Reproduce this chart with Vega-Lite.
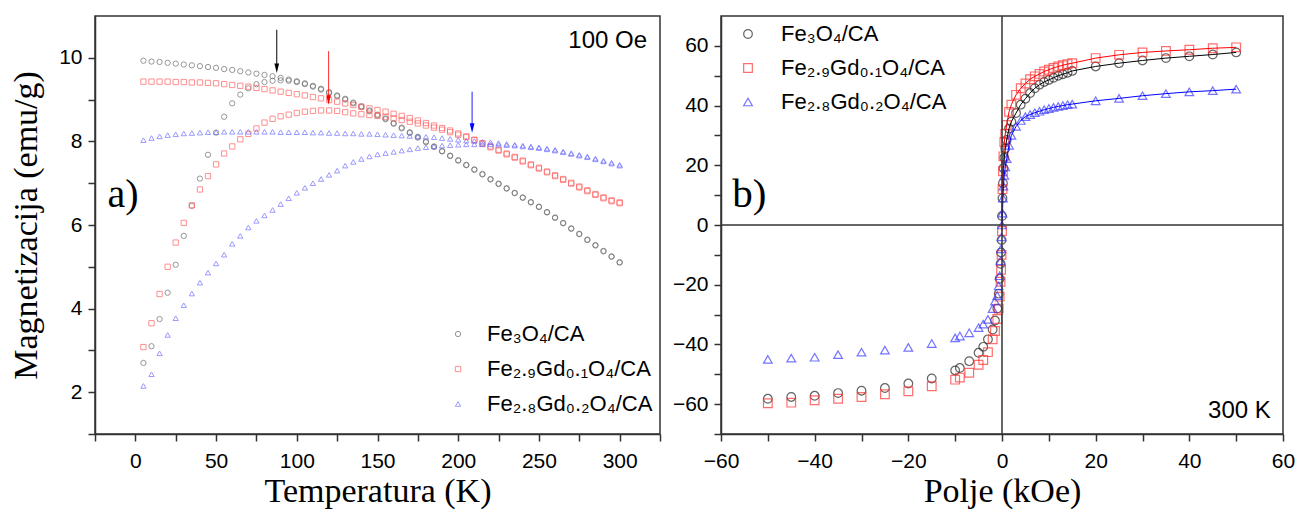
{
"$schema": "https://vega.github.io/schema/vega-lite/v6.json",
"background": "white",
"padding": {"left": 8, "top": 14, "right": 3, "bottom": 3},
"spacing": 9,
"config": {
  "view": {"stroke": "#333", "strokeWidth": 1.5},
  "axis": {"grid": false, "domainColor": "#333", "domainWidth": 1.5, "tickColor": "#333", "tickWidth": 1.5, "tickSize": 7, "labelFont": "Liberation Sans", "labelFontSize": 21, "labelColor": "#000", "labelPadding": 6, "titleFont": "Liberation Serif", "titleFontSize": 34, "titleFontWeight": "normal", "titleColor": "#000", "labelFlush": false, "labelOverlap": false}
},
"datasets": {
"zfc": [
{"s":"A","c":"F","T":5,"M":9.93},{"s":"A","c":"F","T":10,"M":9.91},{"s":"A","c":"F","T":15,"M":9.90},{"s":"A","c":"F","T":20,"M":9.88},{"s":"A","c":"F","T":25,"M":9.86},{"s":"A","c":"F","T":30,"M":9.84},{"s":"A","c":"F","T":35,"M":9.82},{"s":"A","c":"F","T":40,"M":9.80},{"s":"A","c":"F","T":45,"M":9.78},{"s":"A","c":"F","T":50,"M":9.76},{"s":"A","c":"F","T":55,"M":9.73},{"s":"A","c":"F","T":60,"M":9.71},{"s":"A","c":"F","T":65,"M":9.68},{"s":"A","c":"F","T":70,"M":9.65},{"s":"A","c":"F","T":75,"M":9.62},{"s":"A","c":"F","T":80,"M":9.59},{"s":"A","c":"F","T":85,"M":9.56},{"s":"A","c":"F","T":90,"M":9.52},{"s":"A","c":"F","T":95,"M":9.48},{"s":"A","c":"F","T":100,"M":9.44},{"s":"A","c":"F","T":105,"M":9.39},{"s":"A","c":"F","T":110,"M":9.33},{"s":"A","c":"F","T":115,"M":9.26},{"s":"A","c":"F","T":120,"M":9.18},{"s":"A","c":"F","T":125,"M":9.10},{"s":"A","c":"F","T":130,"M":9.02},{"s":"A","c":"F","T":135,"M":8.93},{"s":"A","c":"F","T":140,"M":8.84},{"s":"A","c":"F","T":145,"M":8.74},{"s":"A","c":"F","T":150,"M":8.64},{"s":"A","c":"F","T":155,"M":8.55},{"s":"A","c":"F","T":160,"M":8.44},{"s":"A","c":"F","T":165,"M":8.33},{"s":"A","c":"F","T":170,"M":8.22},{"s":"A","c":"F","T":175,"M":8.11},{"s":"A","c":"F","T":180,"M":8.00},{"s":"A","c":"F","T":185,"M":7.88},{"s":"A","c":"F","T":190,"M":7.77},{"s":"A","c":"F","T":195,"M":7.66},{"s":"A","c":"F","T":200,"M":7.55},{"s":"A","c":"F","T":205,"M":7.44},{"s":"A","c":"F","T":210,"M":7.33},{"s":"A","c":"F","T":215,"M":7.22},{"s":"A","c":"F","T":220,"M":7.10},{"s":"A","c":"F","T":225,"M":6.99},{"s":"A","c":"F","T":230,"M":6.88},{"s":"A","c":"F","T":235,"M":6.77},{"s":"A","c":"F","T":240,"M":6.66},{"s":"A","c":"F","T":245,"M":6.55},{"s":"A","c":"F","T":250,"M":6.44},{"s":"A","c":"F","T":255,"M":6.31},{"s":"A","c":"F","T":260,"M":6.18},{"s":"A","c":"F","T":265,"M":6.05},{"s":"A","c":"F","T":270,"M":5.92},{"s":"A","c":"F","T":275,"M":5.79},{"s":"A","c":"F","T":280,"M":5.65},{"s":"A","c":"F","T":285,"M":5.52},{"s":"A","c":"F","T":290,"M":5.38},{"s":"A","c":"F","T":295,"M":5.25},{"s":"A","c":"F","T":300,"M":5.11},
{"s":"A","c":"Z","T":5,"M":2.70},{"s":"A","c":"Z","T":10,"M":3.10},{"s":"A","c":"Z","T":15,"M":3.75},{"s":"A","c":"Z","T":20,"M":4.38},{"s":"A","c":"Z","T":25,"M":5.05},{"s":"A","c":"Z","T":30,"M":5.74},{"s":"A","c":"Z","T":35,"M":6.46},{"s":"A","c":"Z","T":40,"M":7.11},{"s":"A","c":"Z","T":45,"M":7.68},{"s":"A","c":"Z","T":50,"M":8.21},{"s":"A","c":"Z","T":55,"M":8.59},{"s":"A","c":"Z","T":60,"M":8.91},{"s":"A","c":"Z","T":65,"M":9.12},{"s":"A","c":"Z","T":70,"M":9.27},{"s":"A","c":"Z","T":75,"M":9.37},{"s":"A","c":"Z","T":80,"M":9.42},{"s":"A","c":"Z","T":85,"M":9.45},{"s":"A","c":"Z","T":90,"M":9.46},{"s":"A","c":"Z","T":95,"M":9.45},{"s":"A","c":"Z","T":100,"M":9.42},{"s":"A","c":"Z","T":105,"M":9.37},{"s":"A","c":"Z","T":110,"M":9.31},{"s":"A","c":"Z","T":115,"M":9.24},{"s":"A","c":"Z","T":120,"M":9.16},{"s":"A","c":"Z","T":125,"M":9.08},{"s":"A","c":"Z","T":130,"M":9.00},{"s":"A","c":"Z","T":135,"M":8.91},{"s":"A","c":"Z","T":140,"M":8.82},{"s":"A","c":"Z","T":145,"M":8.72},{"s":"A","c":"Z","T":150,"M":8.62},{"s":"A","c":"Z","T":155,"M":8.53},{"s":"A","c":"Z","T":160,"M":8.42},{"s":"A","c":"Z","T":165,"M":8.31},{"s":"A","c":"Z","T":170,"M":8.20},{"s":"A","c":"Z","T":175,"M":8.09},{"s":"A","c":"Z","T":180,"M":7.98},{"s":"A","c":"Z","T":185,"M":7.87},{"s":"A","c":"Z","T":190,"M":7.76},{"s":"A","c":"Z","T":195,"M":7.65},{"s":"A","c":"Z","T":200,"M":7.54},{"s":"A","c":"Z","T":205,"M":7.43},{"s":"A","c":"Z","T":210,"M":7.32},{"s":"A","c":"Z","T":215,"M":7.21},{"s":"A","c":"Z","T":220,"M":7.09},{"s":"A","c":"Z","T":225,"M":6.98},{"s":"A","c":"Z","T":230,"M":6.87},{"s":"A","c":"Z","T":235,"M":6.76},{"s":"A","c":"Z","T":240,"M":6.65},{"s":"A","c":"Z","T":245,"M":6.54},{"s":"A","c":"Z","T":250,"M":6.43},{"s":"A","c":"Z","T":255,"M":6.30},{"s":"A","c":"Z","T":260,"M":6.17},{"s":"A","c":"Z","T":265,"M":6.04},{"s":"A","c":"Z","T":270,"M":5.91},{"s":"A","c":"Z","T":275,"M":5.78},{"s":"A","c":"Z","T":280,"M":5.64},{"s":"A","c":"Z","T":285,"M":5.51},{"s":"A","c":"Z","T":290,"M":5.37},{"s":"A","c":"Z","T":295,"M":5.24},{"s":"A","c":"Z","T":300,"M":5.10},
{"s":"B","c":"F","T":5,"M":9.43},{"s":"B","c":"F","T":10,"M":9.43},{"s":"B","c":"F","T":15,"M":9.43},{"s":"B","c":"F","T":20,"M":9.43},{"s":"B","c":"F","T":25,"M":9.42},{"s":"B","c":"F","T":30,"M":9.42},{"s":"B","c":"F","T":35,"M":9.41},{"s":"B","c":"F","T":40,"M":9.41},{"s":"B","c":"F","T":45,"M":9.40},{"s":"B","c":"F","T":50,"M":9.39},{"s":"B","c":"F","T":55,"M":9.37},{"s":"B","c":"F","T":60,"M":9.35},{"s":"B","c":"F","T":65,"M":9.33},{"s":"B","c":"F","T":70,"M":9.31},{"s":"B","c":"F","T":75,"M":9.28},{"s":"B","c":"F","T":80,"M":9.25},{"s":"B","c":"F","T":85,"M":9.22},{"s":"B","c":"F","T":90,"M":9.19},{"s":"B","c":"F","T":95,"M":9.16},{"s":"B","c":"F","T":100,"M":9.13},{"s":"B","c":"F","T":105,"M":9.10},{"s":"B","c":"F","T":110,"M":9.06},{"s":"B","c":"F","T":115,"M":9.03},{"s":"B","c":"F","T":120,"M":8.99},{"s":"B","c":"F","T":125,"M":8.95},{"s":"B","c":"F","T":130,"M":8.91},{"s":"B","c":"F","T":135,"M":8.87},{"s":"B","c":"F","T":140,"M":8.83},{"s":"B","c":"F","T":145,"M":8.79},{"s":"B","c":"F","T":150,"M":8.75},{"s":"B","c":"F","T":155,"M":8.71},{"s":"B","c":"F","T":160,"M":8.66},{"s":"B","c":"F","T":165,"M":8.61},{"s":"B","c":"F","T":170,"M":8.56},{"s":"B","c":"F","T":175,"M":8.50},{"s":"B","c":"F","T":180,"M":8.44},{"s":"B","c":"F","T":185,"M":8.38},{"s":"B","c":"F","T":190,"M":8.32},{"s":"B","c":"F","T":195,"M":8.26},{"s":"B","c":"F","T":200,"M":8.19},{"s":"B","c":"F","T":205,"M":8.12},{"s":"B","c":"F","T":210,"M":8.04},{"s":"B","c":"F","T":215,"M":7.96},{"s":"B","c":"F","T":220,"M":7.88},{"s":"B","c":"F","T":225,"M":7.80},{"s":"B","c":"F","T":230,"M":7.71},{"s":"B","c":"F","T":235,"M":7.63},{"s":"B","c":"F","T":240,"M":7.54},{"s":"B","c":"F","T":245,"M":7.45},{"s":"B","c":"F","T":250,"M":7.37},{"s":"B","c":"F","T":255,"M":7.28},{"s":"B","c":"F","T":260,"M":7.19},{"s":"B","c":"F","T":265,"M":7.10},{"s":"B","c":"F","T":270,"M":7.01},{"s":"B","c":"F","T":275,"M":6.92},{"s":"B","c":"F","T":280,"M":6.83},{"s":"B","c":"F","T":285,"M":6.74},{"s":"B","c":"F","T":290,"M":6.66},{"s":"B","c":"F","T":295,"M":6.59},{"s":"B","c":"F","T":300,"M":6.54},
{"s":"B","c":"Z","T":5,"M":3.08},{"s":"B","c":"Z","T":10,"M":3.65},{"s":"B","c":"Z","T":15,"M":4.35},{"s":"B","c":"Z","T":20,"M":5.00},{"s":"B","c":"Z","T":25,"M":5.58},{"s":"B","c":"Z","T":30,"M":6.05},{"s":"B","c":"Z","T":35,"M":6.47},{"s":"B","c":"Z","T":40,"M":6.85},{"s":"B","c":"Z","T":45,"M":7.17},{"s":"B","c":"Z","T":50,"M":7.45},{"s":"B","c":"Z","T":55,"M":7.71},{"s":"B","c":"Z","T":60,"M":7.88},{"s":"B","c":"Z","T":65,"M":8.05},{"s":"B","c":"Z","T":70,"M":8.18},{"s":"B","c":"Z","T":75,"M":8.31},{"s":"B","c":"Z","T":80,"M":8.45},{"s":"B","c":"Z","T":85,"M":8.54},{"s":"B","c":"Z","T":90,"M":8.60},{"s":"B","c":"Z","T":95,"M":8.64},{"s":"B","c":"Z","T":100,"M":8.68},{"s":"B","c":"Z","T":105,"M":8.71},{"s":"B","c":"Z","T":110,"M":8.73},{"s":"B","c":"Z","T":115,"M":8.74},{"s":"B","c":"Z","T":120,"M":8.74},{"s":"B","c":"Z","T":125,"M":8.73},{"s":"B","c":"Z","T":130,"M":8.70},{"s":"B","c":"Z","T":135,"M":8.67},{"s":"B","c":"Z","T":140,"M":8.65},{"s":"B","c":"Z","T":145,"M":8.63},{"s":"B","c":"Z","T":150,"M":8.61},{"s":"B","c":"Z","T":155,"M":8.59},{"s":"B","c":"Z","T":160,"M":8.55},{"s":"B","c":"Z","T":165,"M":8.51},{"s":"B","c":"Z","T":170,"M":8.47},{"s":"B","c":"Z","T":175,"M":8.43},{"s":"B","c":"Z","T":180,"M":8.38},{"s":"B","c":"Z","T":185,"M":8.33},{"s":"B","c":"Z","T":190,"M":8.28},{"s":"B","c":"Z","T":195,"M":8.22},{"s":"B","c":"Z","T":200,"M":8.16},{"s":"B","c":"Z","T":205,"M":8.10},{"s":"B","c":"Z","T":210,"M":8.03},{"s":"B","c":"Z","T":215,"M":7.94},{"s":"B","c":"Z","T":220,"M":7.86},{"s":"B","c":"Z","T":225,"M":7.78},{"s":"B","c":"Z","T":230,"M":7.69},{"s":"B","c":"Z","T":235,"M":7.61},{"s":"B","c":"Z","T":240,"M":7.52},{"s":"B","c":"Z","T":245,"M":7.43},{"s":"B","c":"Z","T":250,"M":7.35},{"s":"B","c":"Z","T":255,"M":7.26},{"s":"B","c":"Z","T":260,"M":7.17},{"s":"B","c":"Z","T":265,"M":7.08},{"s":"B","c":"Z","T":270,"M":6.99},{"s":"B","c":"Z","T":275,"M":6.90},{"s":"B","c":"Z","T":280,"M":6.81},{"s":"B","c":"Z","T":285,"M":6.72},{"s":"B","c":"Z","T":290,"M":6.64},{"s":"B","c":"Z","T":295,"M":6.57},{"s":"B","c":"Z","T":300,"M":6.52},
{"s":"C","c":"F","T":5,"M":8.03},{"s":"C","c":"F","T":10,"M":8.08},{"s":"C","c":"F","T":15,"M":8.12},{"s":"C","c":"F","T":20,"M":8.15},{"s":"C","c":"F","T":25,"M":8.17},{"s":"C","c":"F","T":30,"M":8.19},{"s":"C","c":"F","T":35,"M":8.20},{"s":"C","c":"F","T":40,"M":8.21},{"s":"C","c":"F","T":45,"M":8.22},{"s":"C","c":"F","T":50,"M":8.22},{"s":"C","c":"F","T":55,"M":8.23},{"s":"C","c":"F","T":60,"M":8.23},{"s":"C","c":"F","T":65,"M":8.23},{"s":"C","c":"F","T":70,"M":8.23},{"s":"C","c":"F","T":75,"M":8.23},{"s":"C","c":"F","T":80,"M":8.23},{"s":"C","c":"F","T":85,"M":8.23},{"s":"C","c":"F","T":90,"M":8.22},{"s":"C","c":"F","T":95,"M":8.22},{"s":"C","c":"F","T":100,"M":8.22},{"s":"C","c":"F","T":105,"M":8.22},{"s":"C","c":"F","T":110,"M":8.21},{"s":"C","c":"F","T":115,"M":8.21},{"s":"C","c":"F","T":120,"M":8.20},{"s":"C","c":"F","T":125,"M":8.20},{"s":"C","c":"F","T":130,"M":8.19},{"s":"C","c":"F","T":135,"M":8.19},{"s":"C","c":"F","T":140,"M":8.18},{"s":"C","c":"F","T":145,"M":8.18},{"s":"C","c":"F","T":150,"M":8.17},{"s":"C","c":"F","T":155,"M":8.16},{"s":"C","c":"F","T":160,"M":8.15},{"s":"C","c":"F","T":165,"M":8.14},{"s":"C","c":"F","T":170,"M":8.13},{"s":"C","c":"F","T":175,"M":8.12},{"s":"C","c":"F","T":180,"M":8.11},{"s":"C","c":"F","T":185,"M":8.10},{"s":"C","c":"F","T":190,"M":8.08},{"s":"C","c":"F","T":195,"M":8.06},{"s":"C","c":"F","T":200,"M":8.04},{"s":"C","c":"F","T":205,"M":8.02},{"s":"C","c":"F","T":210,"M":8.01},{"s":"C","c":"F","T":215,"M":7.99},{"s":"C","c":"F","T":220,"M":7.98},{"s":"C","c":"F","T":225,"M":7.96},{"s":"C","c":"F","T":230,"M":7.94},{"s":"C","c":"F","T":235,"M":7.92},{"s":"C","c":"F","T":240,"M":7.90},{"s":"C","c":"F","T":245,"M":7.88},{"s":"C","c":"F","T":250,"M":7.86},{"s":"C","c":"F","T":255,"M":7.83},{"s":"C","c":"F","T":260,"M":7.80},{"s":"C","c":"F","T":265,"M":7.76},{"s":"C","c":"F","T":270,"M":7.72},{"s":"C","c":"F","T":275,"M":7.68},{"s":"C","c":"F","T":280,"M":7.64},{"s":"C","c":"F","T":285,"M":7.59},{"s":"C","c":"F","T":290,"M":7.54},{"s":"C","c":"F","T":295,"M":7.49},{"s":"C","c":"F","T":300,"M":7.44},
{"s":"C","c":"Z","T":5,"M":2.15},{"s":"C","c":"Z","T":10,"M":2.43},{"s":"C","c":"Z","T":15,"M":2.93},{"s":"C","c":"Z","T":20,"M":3.37},{"s":"C","c":"Z","T":25,"M":3.77},{"s":"C","c":"Z","T":30,"M":4.08},{"s":"C","c":"Z","T":35,"M":4.36},{"s":"C","c":"Z","T":40,"M":4.62},{"s":"C","c":"Z","T":45,"M":4.86},{"s":"C","c":"Z","T":50,"M":5.08},{"s":"C","c":"Z","T":55,"M":5.29},{"s":"C","c":"Z","T":60,"M":5.55},{"s":"C","c":"Z","T":65,"M":5.74},{"s":"C","c":"Z","T":70,"M":5.94},{"s":"C","c":"Z","T":75,"M":6.10},{"s":"C","c":"Z","T":80,"M":6.23},{"s":"C","c":"Z","T":85,"M":6.36},{"s":"C","c":"Z","T":90,"M":6.50},{"s":"C","c":"Z","T":95,"M":6.64},{"s":"C","c":"Z","T":100,"M":6.77},{"s":"C","c":"Z","T":105,"M":6.89},{"s":"C","c":"Z","T":110,"M":7.00},{"s":"C","c":"Z","T":115,"M":7.10},{"s":"C","c":"Z","T":120,"M":7.20},{"s":"C","c":"Z","T":125,"M":7.30},{"s":"C","c":"Z","T":130,"M":7.42},{"s":"C","c":"Z","T":135,"M":7.51},{"s":"C","c":"Z","T":140,"M":7.58},{"s":"C","c":"Z","T":145,"M":7.64},{"s":"C","c":"Z","T":150,"M":7.69},{"s":"C","c":"Z","T":155,"M":7.72},{"s":"C","c":"Z","T":160,"M":7.75},{"s":"C","c":"Z","T":165,"M":7.78},{"s":"C","c":"Z","T":170,"M":7.81},{"s":"C","c":"Z","T":175,"M":7.84},{"s":"C","c":"Z","T":180,"M":7.86},{"s":"C","c":"Z","T":185,"M":7.88},{"s":"C","c":"Z","T":190,"M":7.90},{"s":"C","c":"Z","T":195,"M":7.91},{"s":"C","c":"Z","T":200,"M":7.92},{"s":"C","c":"Z","T":205,"M":7.93},{"s":"C","c":"Z","T":210,"M":7.93},{"s":"C","c":"Z","T":215,"M":7.93},{"s":"C","c":"Z","T":220,"M":7.93},{"s":"C","c":"Z","T":225,"M":7.92},{"s":"C","c":"Z","T":230,"M":7.91},{"s":"C","c":"Z","T":235,"M":7.90},{"s":"C","c":"Z","T":240,"M":7.88},{"s":"C","c":"Z","T":245,"M":7.86},{"s":"C","c":"Z","T":250,"M":7.84},{"s":"C","c":"Z","T":255,"M":7.81},{"s":"C","c":"Z","T":260,"M":7.78},{"s":"C","c":"Z","T":265,"M":7.74},{"s":"C","c":"Z","T":270,"M":7.70},{"s":"C","c":"Z","T":275,"M":7.66},{"s":"C","c":"Z","T":280,"M":7.62},{"s":"C","c":"Z","T":285,"M":7.57},{"s":"C","c":"Z","T":290,"M":7.52},{"s":"C","c":"Z","T":295,"M":7.47},{"s":"C","c":"Z","T":300,"M":7.42}
],
"hys": [
{"s":"A","H":-50,"M":-58.2},{"s":"A","H":-45,"M":-57.6},{"s":"A","H":-40,"M":-57.2},{"s":"A","H":-35,"M":-56.3},{"s":"A","H":-30,"M":-55.5},{"s":"A","H":-25,"M":-54.6},{"s":"A","H":-20,"M":-53.1},{"s":"A","H":-15,"M":-51.4},{"s":"A","H":-10,"M":-48.7},{"s":"A","H":-9,"M":-47.9},{"s":"A","H":-7,"M":-45.6},{"s":"A","H":-5,"M":-42.8},{"s":"A","H":-4,"M":-40.8},{"s":"A","H":-3,"M":-38.3},{"s":"A","H":-2,"M":-35.0},{"s":"A","H":-1.5,"M":-32.0},{"s":"A","H":-1,"M":-28.0},{"s":"A","H":-0.7,"M":-23.0},{"s":"A","H":-0.5,"M":-18.0},{"s":"A","H":-0.3,"M":-13.0},{"s":"A","H":-0.2,"M":-9.2},{"s":"A","H":-0.1,"M":-5.0},{"s":"A","H":0,"M":3.0},{"s":"A","H":0.1,"M":9.0},{"s":"A","H":0.2,"M":14.0},{"s":"A","H":0.3,"M":19.0},{"s":"A","H":0.5,"M":22.5},{"s":"A","H":0.7,"M":25.6},{"s":"A","H":1,"M":28.5},{"s":"A","H":1.5,"M":32.3},{"s":"A","H":2,"M":34.6},{"s":"A","H":3,"M":37.5},{"s":"A","H":4,"M":40.3},{"s":"A","H":5,"M":42.3},{"s":"A","H":6,"M":44.2},{"s":"A","H":7,"M":45.8},{"s":"A","H":8,"M":47.0},{"s":"A","H":9,"M":47.9},{"s":"A","H":10,"M":48.6},{"s":"A","H":11,"M":49.3},{"s":"A","H":12,"M":50.0},{"s":"A","H":13,"M":50.5},{"s":"A","H":14,"M":51.0},{"s":"A","H":15,"M":51.6},{"s":"A","H":20,"M":53.1},{"s":"A","H":25,"M":54.2},{"s":"A","H":30,"M":55.1},{"s":"A","H":35,"M":55.9},{"s":"A","H":40,"M":56.5},{"s":"A","H":45,"M":57.1},{"s":"A","H":50,"M":57.8},
{"s":"B","H":-50,"M":-59.7},{"s":"B","H":-45,"M":-59.5},{"s":"B","H":-40,"M":-58.7},{"s":"B","H":-35,"M":-58.2},{"s":"B","H":-30,"M":-57.6},{"s":"B","H":-25,"M":-56.7},{"s":"B","H":-20,"M":-55.7},{"s":"B","H":-15,"M":-54.0},{"s":"B","H":-10,"M":-51.8},{"s":"B","H":-9,"M":-51.1},{"s":"B","H":-7,"M":-49.5},{"s":"B","H":-5,"M":-46.8},{"s":"B","H":-4,"M":-45.2},{"s":"B","H":-3,"M":-42.6},{"s":"B","H":-2,"M":-38.3},{"s":"B","H":-1.5,"M":-35.5},{"s":"B","H":-1,"M":-31.5},{"s":"B","H":-0.7,"M":-28.0},{"s":"B","H":-0.5,"M":-24.0},{"s":"B","H":-0.3,"M":-19.0},{"s":"B","H":-0.2,"M":-15.0},{"s":"B","H":-0.1,"M":-10.0},{"s":"B","H":0,"M":-2.0},{"s":"B","H":0.1,"M":12.0},{"s":"B","H":0.2,"M":18.0},{"s":"B","H":0.3,"M":23.0},{"s":"B","H":0.5,"M":27.8},{"s":"B","H":0.7,"M":30.5},{"s":"B","H":1,"M":33.5},{"s":"B","H":1.5,"M":37.9},{"s":"B","H":2,"M":40.3},{"s":"B","H":3,"M":43.6},{"s":"B","H":4,"M":45.8},{"s":"B","H":5,"M":47.4},{"s":"B","H":6,"M":48.8},{"s":"B","H":7,"M":49.8},{"s":"B","H":8,"M":50.6},{"s":"B","H":9,"M":51.4},{"s":"B","H":10,"M":52.0},{"s":"B","H":11,"M":52.6},{"s":"B","H":12,"M":53.1},{"s":"B","H":13,"M":53.5},{"s":"B","H":14,"M":53.9},{"s":"B","H":15,"M":54.2},{"s":"B","H":20,"M":55.9},{"s":"B","H":25,"M":57.0},{"s":"B","H":30,"M":57.8},{"s":"B","H":35,"M":58.3},{"s":"B","H":40,"M":58.7},{"s":"B","H":45,"M":59.2},{"s":"B","H":50,"M":59.5},
{"s":"C","H":-50,"M":-45.0},{"s":"C","H":-45,"M":-44.6},{"s":"C","H":-40,"M":-44.3},{"s":"C","H":-35,"M":-43.4},{"s":"C","H":-30,"M":-42.6},{"s":"C","H":-25,"M":-41.9},{"s":"C","H":-20,"M":-41.0},{"s":"C","H":-15,"M":-39.7},{"s":"C","H":-10,"M":-37.8},{"s":"C","H":-9,"M":-37.2},{"s":"C","H":-7,"M":-36.1},{"s":"C","H":-5,"M":-34.4},{"s":"C","H":-4,"M":-33.2},{"s":"C","H":-3,"M":-31.6},{"s":"C","H":-2,"M":-28.0},{"s":"C","H":-1.5,"M":-25.5},{"s":"C","H":-1,"M":-23.7},{"s":"C","H":-0.7,"M":-20.4},{"s":"C","H":-0.5,"M":-17.0},{"s":"C","H":-0.3,"M":-12.0},{"s":"C","H":-0.2,"M":-8.0},{"s":"C","H":-0.1,"M":-4.0},{"s":"C","H":0,"M":0.0},{"s":"C","H":0.1,"M":4.0},{"s":"C","H":0.2,"M":9.0},{"s":"C","H":0.3,"M":13.0},{"s":"C","H":0.5,"M":16.6},{"s":"C","H":0.7,"M":19.5},{"s":"C","H":1,"M":22.2},{"s":"C","H":1.5,"M":26.7},{"s":"C","H":2,"M":30.0},{"s":"C","H":3,"M":33.0},{"s":"C","H":4,"M":35.0},{"s":"C","H":5,"M":36.3},{"s":"C","H":6,"M":37.0},{"s":"C","H":7,"M":37.6},{"s":"C","H":8,"M":38.1},{"s":"C","H":9,"M":38.6},{"s":"C","H":10,"M":39.0},{"s":"C","H":11,"M":39.4},{"s":"C","H":12,"M":39.7},{"s":"C","H":13,"M":40.0},{"s":"C","H":14,"M":40.3},{"s":"C","H":15,"M":40.5},{"s":"C","H":20,"M":41.6},{"s":"C","H":25,"M":42.4},{"s":"C","H":30,"M":43.3},{"s":"C","H":35,"M":44.0},{"s":"C","H":40,"M":44.6},{"s":"C","H":45,"M":45.0},{"s":"C","H":50,"M":45.5}
]
},
"hconcat": [
{
  "width": 565, "height": 418,
  "layer": [
    {
      "data": {"name": "zfc"},
      "mark": {"type": "point", "filled": false, "size": 28, "strokeWidth": 1},
      "encoding": {
        "x": {"field": "T", "type": "quantitative", "scale": {"domain": [-25, 325], "nice": false, "zero": false},
              "axis": {"title": "Temperatura (K)", "values": [-25,0,25,50,75,100,125,150,175,200,225,250,275,300,325], "labelExpr": "datum.value % 50 == 0 ? datum.label : ''", "labelPadding": 9, "titlePadding": 3}},
        "y": {"field": "M", "type": "quantitative", "scale": {"domain": [1, 11], "nice": false, "zero": false},
              "axis": {"title": "Magnetizacija (emu/g)", "values": [1,2,3,4,5,6,7,8,9,10], "labelExpr": "datum.value % 2 == 0 ? datum.label : ''", "titlePadding": 15.5}},
        "color": {"field": "s", "type": "nominal", "scale": {"domain": ["A","B","C"], "range": ["#6b6b6b", "#ff6060", "#7070ff"]},
                  "legend": {"title": null, "orient": "none", "legendX": 352, "legendY": 307, "padding": 0, "symbolSize": 28, "symbolStrokeWidth": 1, "labelFont": "Liberation Sans", "labelFontSize": 22, "labelColor": "#000", "labelOffset": 18, "rowPadding": 13, "labelLimit": 400, "labelExpr": "datum.value == 'A' ? 'Fe₃O₄/CA' : datum.value == 'B' ? 'Fe₂.₉Gd₀.₁O₄/CA' : 'Fe₂.₈Gd₀.₂O₄/CA'"}},
        "shape": {"field": "s", "type": "nominal", "scale": {"domain": ["A","B","C"], "range": ["circle", "square", "triangle-up"]},
                  "legend": {"title": null, "orient": "none", "legendX": 352, "legendY": 307, "padding": 0, "symbolSize": 28, "symbolStrokeWidth": 1, "labelFont": "Liberation Sans", "labelFontSize": 22, "labelColor": "#000", "labelOffset": 18, "rowPadding": 13, "labelLimit": 400, "labelExpr": "datum.value == 'A' ? 'Fe₃O₄/CA' : datum.value == 'B' ? 'Fe₂.₉Gd₀.₁O₄/CA' : 'Fe₂.₈Gd₀.₂O₄/CA'"}}
      }
    },
    {
      "data": {"values": [{"T": 87.6, "y1": 10.67, "y2": 9.75, "col": "#000000"}, {"T": 119.7, "y1": 10.16, "y2": 8.99, "col": "#ff3030"}, {"T": 208.6, "y1": 9.19, "y2": 8.32, "col": "#2020ff"}]},
      "mark": {"type": "rule", "strokeWidth": 1},
      "encoding": {
        "x": {"field": "T", "type": "quantitative"},
        "y": {"field": "y1", "type": "quantitative"},
        "y2": {"field": "y2"},
        "stroke": {"field": "col", "type": "nominal", "scale": null}
      }
    },
    {
      "data": {"values": [{"T": 87.6, "M": 9.75, "col": "#000000"}, {"T": 119.7, "M": 8.99, "col": "#ff0000"}, {"T": 208.6, "M": 8.32, "col": "#0000ff"}]},
      "mark": {"type": "point", "filled": true, "shape": "M-0.5,-1L0.5,-1L0,1Z", "size": 90, "opacity": 1, "strokeWidth": 0},
      "encoding": {
        "x": {"field": "T", "type": "quantitative"},
        "y": {"field": "M", "type": "quantitative"},
        "fill": {"field": "col", "type": "nominal", "scale": null}
      }
    },
    {
      "data": {"values": [{"T": 317, "M": 10.24, "label": "100 Oe"}]},
      "mark": {"type": "text", "align": "right", "baseline": "alphabetic", "font": "Liberation Sans", "fontSize": 24, "color": "#000"},
      "encoding": {"x": {"field": "T", "type": "quantitative"}, "y": {"field": "M", "type": "quantitative"}, "text": {"field": "label"}}
    },
    {
      "data": {"values": [{"T": -17.3, "M": 6.44, "label": "a)"}]},
      "mark": {"type": "text", "align": "left", "baseline": "alphabetic", "font": "Liberation Serif", "fontSize": 40, "color": "#000"},
      "encoding": {"x": {"field": "T", "type": "quantitative"}, "y": {"field": "M", "type": "quantitative"}, "text": {"field": "label"}}
    }
  ]
},
{
  "width": 562, "height": 418,
  "resolve": {"axis": {"y": "independent"}},
  "layer": [
    {
      "data": {"name": "hys"},
      "mark": {"type": "point", "filled": false, "size": 75, "strokeWidth": 1.2},
      "encoding": {
        "x": {"field": "H", "type": "quantitative", "scale": {"domain": [-60, 60], "nice": false, "zero": false},
              "axis": {"title": "Polje (kOe)", "values": [-60,-50,-40,-30,-20,-10,0,10,20,30,40,50,60], "labelExpr": "datum.value % 20 == 0 ? datum.label : ''", "labelPadding": 9, "titlePadding": 3}},
        "y": {"field": "M", "type": "quantitative", "scale": {"domain": [-70, 70], "nice": false, "zero": false},
              "axis": {"orient": "left", "title": null, "values": [-60,-40,-20,0,20,40,60]}},
        "color": {"field": "s", "type": "nominal", "scale": {"domain": ["A","B","C"], "range": ["#222222", "#ff3030", "#3a3aff"]},
                  "legend": {"title": null, "orient": "none", "legendX": 16, "legendY": 7, "padding": 0, "symbolSize": 75, "symbolStrokeWidth": 1.2, "labelFont": "Liberation Sans", "labelFontSize": 22, "labelColor": "#000", "labelOffset": 22, "rowPadding": 12, "labelLimit": 400, "labelExpr": "datum.value == 'A' ? 'Fe₃O₄/CA' : datum.value == 'B' ? 'Fe₂.₉Gd₀.₁O₄/CA' : 'Fe₂.₈Gd₀.₂O₄/CA'"}},
        "shape": {"field": "s", "type": "nominal", "scale": {"domain": ["A","B","C"], "range": ["circle", "square", "triangle-up"]},
                  "legend": {"title": null, "orient": "none", "legendX": 16, "legendY": 7, "padding": 0, "symbolSize": 75, "symbolStrokeWidth": 1.2, "labelFont": "Liberation Sans", "labelFontSize": 22, "labelColor": "#000", "labelOffset": 22, "rowPadding": 12, "labelLimit": 400, "labelExpr": "datum.value == 'A' ? 'Fe₃O₄/CA' : datum.value == 'B' ? 'Fe₂.₉Gd₀.₁O₄/CA' : 'Fe₂.₈Gd₀.₂O₄/CA'"}}
      }
    },
    {
      "data": {"name": "hys"},
      "transform": [{"filter": "datum.H >= 0"}],
      "mark": {"type": "line", "strokeWidth": 1},
      "encoding": {
        "x": {"field": "H", "type": "quantitative"},
        "y": {"field": "M", "type": "quantitative", "axis": null},
        "stroke": {"field": "s", "type": "nominal", "scale": {"domain": ["A","B","C"], "range": ["#000000", "#ff0000", "#0000ff"]}, "legend": null}
      }
    },
    {
      "data": {"values": [{"H": 0}]},
      "mark": {"type": "rule", "color": "#333", "strokeWidth": 1.5},
      "encoding": {"x": {"field": "H", "type": "quantitative"}}
    },
    {
      "data": {"values": [{"M": 0}]},
      "mark": {"type": "rule", "color": "#333", "strokeWidth": 1.5},
      "encoding": {"y": {"field": "M", "type": "quantitative", "axis": {"orient": "left", "title": null, "values": [-70,-50,-30,-10,10,30,50], "labels": false, "domain": false, "ticks": true, "tickSize": 7}}}
    },
    {
      "data": {"values": [{"H": -57.6, "M": 5.95, "label": "b)"}]},
      "mark": {"type": "text", "align": "left", "baseline": "alphabetic", "font": "Liberation Serif", "fontSize": 41, "color": "#000"},
      "encoding": {"x": {"field": "H", "type": "quantitative"}, "y": {"field": "M", "type": "quantitative", "axis": null}, "text": {"field": "label"}}
    },
    {
      "data": {"values": [{"H": 57.4, "M": -64.7, "label": "300 K"}]},
      "mark": {"type": "text", "align": "right", "baseline": "alphabetic", "font": "Liberation Sans", "fontSize": 24, "color": "#000"},
      "encoding": {"x": {"field": "H", "type": "quantitative"}, "y": {"field": "M", "type": "quantitative", "axis": null}, "text": {"field": "label"}}
    }
  ]
}
],
"resolve": {"scale": {"color": "independent", "shape": "independent"}, "legend": {"color": "independent", "shape": "independent"}}
}
